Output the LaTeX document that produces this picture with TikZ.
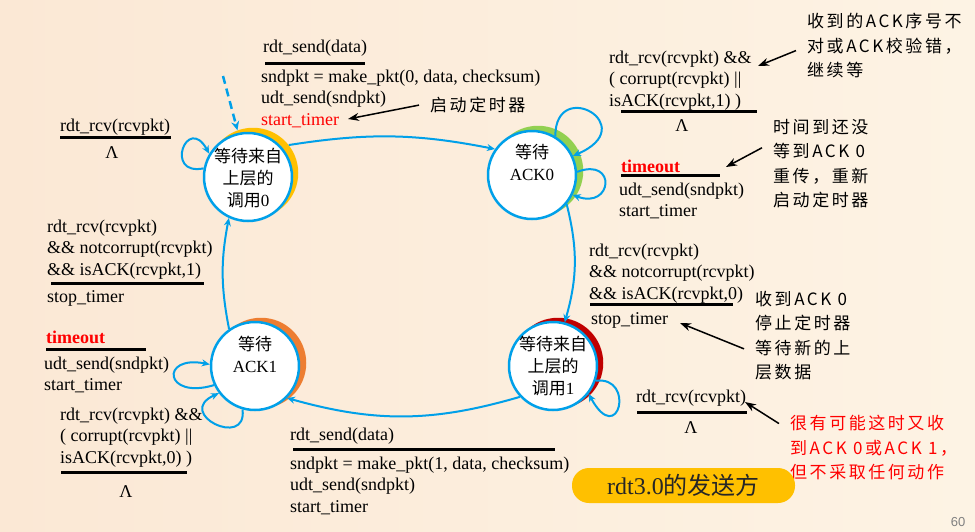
\documentclass[tikz,border=0pt]{standalone}
\usepackage{fontspec}
\usepackage{tikz}
\usetikzlibrary{arrows.meta,calc}
\setmainfont{Liberation Serif}
\setsansfont{Liberation Sans}
\newfontfamily\cjk{Noto Sans CJK SC}
\newfontfamily\cjknote[LetterSpace=15]{Noto Sans CJK SC}
\definecolor{lineblue}{RGB}{0,160,233}
\definecolor{cresgold}{RGB}{255,192,0}
\definecolor{cresgreen}{RGB}{146,208,80}
\definecolor{cresred}{RGB}{192,0,0}
\definecolor{cresorange}{RGB}{237,125,49}
\definecolor{bgleft}{RGB}{251,232,213}
\definecolor{bgright}{RGB}{253,243,228}

\begin{document}
\begin{tikzpicture}[x=1pt,y=-1pt,
    state/.style={circle,draw=lineblue,line width=2.5pt,fill=white,minimum size=88pt,inner sep=0pt},
    crescent/.style={circle,minimum size=90.5pt,inner sep=0pt},
    statetext/.style={align=center,inner sep=0pt,font=\fontsize{17}{22}\selectfont},
    trans/.style={draw=lineblue,line width=2pt,-{Stealth[length=8pt,width=7pt]}},
    initarrow/.style={draw=lineblue,line width=2.5pt,dash pattern=on 8pt off 5pt,-{Stealth[length=9pt,width=8pt]}},
    lbl/.style={anchor=north west,align=left,inner sep=0pt,font=\fontsize{18}{21.5}\selectfont},
    lam/.style={inner sep=0pt,font=\fontsize{18}{21.5}\selectfont},
    bar/.style={line width=3pt},
    note/.style={anchor=north west,align=left,inner xsep=11pt,inner ysep=0pt,font=\cjknote\fontsize{17}{24.5}\selectfont},
    notearrow/.style={line width=1.5pt,-{Stealth[length=11pt,width=8pt]}},
    titlebox/.style={fill=cresgold,rounded corners=17pt,minimum width=223pt,minimum height=35pt,inner sep=0pt,font=\fontsize{24}{28}\selectfont,text=black!85},
    pagenum/.style={inner sep=0pt,text=black!50,font=\sffamily\fontsize{13}{15}\selectfont}]
\useasboundingbox (0,0) rectangle (975,531);
\shade[left color=bgleft,right color=bgright] (0,0) rectangle (975,531);

\coordinate (c0) at (248,177);
\coordinate (c1) at (532,175);
\coordinate (c2) at (553,366);
\coordinate (c3) at (255,366);
\node[crescent,fill=cresgold] (s0b) at ($(c0)+(5,-4)$) {};
\node[crescent,fill=cresgreen] (s1b) at ($(c1)+(6,-4)$) {};
\node[crescent,fill=cresred] (s2b) at ($(c2)+(5,-3)$) {};
\node[crescent,fill=cresorange] (s3b) at ($(c3)+(6,-3)$) {};
\node[state] (s0) at (c0) {};
\node[state] (s1) at (c1) {};
\node[state] (s2) at (c2) {};
\node[state] (s3) at (c3) {};
\node[statetext] (s0t) at (248,178) {{\cjk 等待来自}\\{\cjk 上层的}\\{\cjk 调用}0};
\node[statetext] (s1t) at (532,162) {{\cjk 等待}\\ACK0};
\node[statetext] (s2t) at (553,366) {{\cjk 等待来自}\\{\cjk 上层的}\\{\cjk 调用}1};
\node[statetext] (s3t) at (255,354) {{\cjk 等待}\\ACK1};

\coordinate (init) at (223,76);
\draw[initarrow] (init) -- (s0b.110);
\draw[trans] (s0b.38) to[bend left=10] (s1.145);
\draw[trans] (s1.-40) to[bend left=15] (s2.75);
\draw[trans] (s2.223) to[bend left=16] (s3.-45);
\draw[trans] (s3.125) to[bend left=11] (s0.245);
\draw[trans] (s0.169) .. controls +(-40,8) and +(-22,-40) .. (s0.149);
\draw[trans] (s1.59) .. controls +(0,-60) and +(70,-30) .. (s1.25);
\draw[trans] (s1.4) .. controls +(40,-15) and +(40,15) .. (s1.-26);
\draw[trans] (s2.-19) .. controls +(40,-5) and +(30,55) .. (s2.-38);
\draw[trans] (s3.205) .. controls +(-50,15) and +(-50,-10) .. (s3.178);
\draw[trans] (s3.254) .. controls +(5,40) and +(-45,20) .. (s3.217);

\node[lbl] (gA) at (263,39.5) {rdt\_send(data)};
\draw[bar] (265,63) -- (365,63);
\node[lbl] (aA) at (261,69.5) {sndpkt = make\_pkt(0, data, checksum)\\udt\_send(sndpkt)\\\textcolor{red}{start\_timer}};

\node[lbl] (gB) at (60,118.5) {rdt\_rcv(rcvpkt)};
\draw[bar] (60,137) -- (171,137);
\node[lam] (lB) at (112,153) {Λ};

\node[lbl] (gC) at (47,219.5) {rdt\_rcv(rcvpkt)\\\&\& notcorrupt(rcvpkt)\\\&\& isACK(rcvpkt,1)};
\draw[bar] (51,283) -- (204,283);
\node[lbl] (aC) at (47,290.5) {stop\_timer};

\node[lbl] (gD) at (46,330.5) {\textbf{\textcolor{red}{timeout}}};
\draw[bar] (46,349) -- (146,349);
\node[lbl] (aD) at (44,356.5) {udt\_send(sndpkt)\\start\_timer};

\node[lbl] (gE) at (60,407.5) {rdt\_rcv(rcvpkt) \&\&\\( corrupt(rcvpkt) ||\\isACK(rcvpkt,0) )};
\draw[bar] (61,472) -- (187,472);
\node[lam] (lE) at (126,492) {Λ};

\node[lbl] (gF) at (290,427.5) {rdt\_send(data)};
\draw[bar] (293,449) -- (555,449);
\node[lbl] (aF) at (290,456.5) {sndpkt = make\_pkt(1, data, checksum)\\udt\_send(sndpkt)\\start\_timer};

\node[lbl] (gG) at (609,50.5) {rdt\_rcv(rcvpkt) \&\&\\( corrupt(rcvpkt) ||\\isACK(rcvpkt,1) )};
\draw[bar] (621,111) -- (757,111);
\node[lam] (lG) at (682,126) {Λ};

\node[lbl] (gH) at (621,159.5) {\textbf{\textcolor{red}{timeout}}};
\draw[bar] (621,175) -- (720,175);
\node[lbl] (aH) at (619,182.5) {udt\_send(sndpkt)\\start\_timer};

\node[lbl] (gI) at (589,243.5) {rdt\_rcv(rcvpkt)\\\&\& notcorrupt(rcvpkt)\\\&\& isACK(rcvpkt,0)};
\draw[bar] (590,304) -- (733,304);
\node[lbl] (aI) at (591,312.5) {stop\_timer};

\node[lbl] (gJ) at (636,389.5) {rdt\_rcv(rcvpkt)};
\draw[bar] (637,412) -- (747,412);
\node[lam] (lJ) at (691,428) {Λ};

\node[note] (n1) at (419,97) {启动定时器};
\node[note] (n2) at (796,13) {收到的ACK序号不\\对或ACK校验错，\\继续等};
\node[note] (n3) at (762,119) {时间到还没\\等到ACK 0\\重传，重新\\启动定时器};
\node[note] (n4) at (744,291) {收到ACK 0\\停止定时器\\等待新的上\\层数据};
\node[note,text=red] (n5) at (779,415) {很有可能这时又收\\到ACK 0或ACK 1，\\但不采取任何动作};
\coordinate (t1) at (348,119);
\coordinate (t2) at (758,66);
\coordinate (t3) at (726,167);
\coordinate (t4) at (680,323);
\coordinate (t5) at (745,402);
\draw[notearrow] (n1.west) -- (t1);
\draw[notearrow] ([yshift=-5pt]n2.west) -- (t2);
\draw[notearrow] ([yshift=16pt]n3.west) -- (t3);
\draw[notearrow] ([yshift=-13pt]n4.west) -- (t4);
\draw[notearrow] ([yshift=24pt]n5.west) -- (t5);

\node[titlebox] (ttl) at (683.5,485.5) {rdt3.0{\cjk 的发送方}};
\node[pagenum] (pg) at (958,522) {60};
\end{tikzpicture}
\end{document}
